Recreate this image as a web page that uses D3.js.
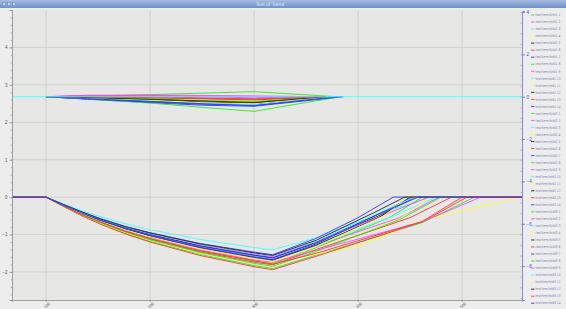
<!DOCTYPE html>
<html>
<head>
<meta charset="utf-8">
<script src="https://cdn.jsdelivr.net/npm/d3@7"></script>
<style>
  body { margin: 0; background: #ededed; overflow: hidden; }
  svg { display: block; font-family: "DejaVu Sans", sans-serif; }
</style>
</head>
<body>
<svg id="chart"></svg>
<script>
// Chart data
const title = 'Test of Trend';
const xTicks = [100, 200, 300, 400, 500];
const leftTicks = [-2, -1, 0, 1, 2, 3, 4];
const rightTicks = [-8, -6, -4, -2, 0, 2, 4];
const palette = ['#22ee22', '#ff44ff', '#44ffff', '#ffff33', '#222222', '#ff3333', '#3333ff'];

const seriesNames = [
    'testitem/fofd1-1', 'testitem/fofd1-2', 'testitem/fofd1-3', 'testitem/fofd1-4', 'testitem/fofd1-5',
    'testitem/fofd1-6', 'testitem/fofd1-7', 'testitem/fofd1-8', 'testitem/fofd1-9', 'testitem/fofd1-10',
    'testitem/fofd1-11', 'testitem/fofd1-12', 'testitem/fofd1-13', 'testitem/fofd1-14',
    'testitem/fofd2-1', 'testitem/fofd2-2', 'testitem/fofd2-3', 'testitem/fofd2-4', 'testitem/fofd2-5',
    'testitem/fofd2-6', 'testitem/fofd2-7', 'testitem/fofd2-8', 'testitem/fofd2-9', 'testitem/fofd2-10',
    'testitem/fofd2-11', 'testitem/fofd2-12', 'testitem/fofd2-13', 'testitem/fofd2-14',
    'testitem/fofd3-1', 'testitem/fofd3-2', 'testitem/fofd3-3', 'testitem/fofd3-4', 'testitem/fofd3-5',
    'testitem/fofd3-6', 'testitem/fofd3-7', 'testitem/fofd3-8', 'testitem/fofd3-9', 'testitem/fofd3-10',
    'testitem/fofd3-11', 'testitem/fofd3-12', 'testitem/fofd3-13', 'testitem/fofd3-14'
];

// upper group (right axis): values at upX, then back to 0 at upEnd
const upX = [100, 140, 200, 250, 300];
const upValues = [
    [0, 0.04, 0.10, 0.17, 0.24],
    [0, 0.06, 0.08, 0.06, 0.04],
    null, // flat reference line
    [0, -0.05, -0.12, -0.20, -0.25],
    [0, -0.08, -0.20, -0.30, -0.35],
    [0, 0.02, 0.00, -0.05, -0.10],
    [0, -0.12, -0.28, -0.40, -0.45],
    [0, -0.10, -0.30, -0.50, -0.69],
    [0, 0.05, 0.06, 0.03, 0.00],
    [0, -0.06, -0.15, -0.22, -0.30],
    [0, -0.03, -0.08, -0.15, -0.18],
    [0, -0.05, -0.14, -0.25, -0.30],
    [0, -0.02, -0.05, -0.10, -0.15],
    [0, -0.10, -0.25, -0.35, -0.40],
    [0, -0.04, -0.10, -0.18, -0.22],
    [0, 0.07, 0.05, 0.00, -0.05],
    [0, -0.08, -0.18, -0.30, -0.38],
    [0, -0.06, -0.16, -0.28, -0.33],
    [0, -0.04, -0.12, -0.20, -0.27],
    [0, 0.00, -0.04, -0.08, -0.12],
    [0, -0.09, -0.22, -0.33, -0.42]
];
const upEnd = [380, 365, null, 370, 372, 368, 386, 383, 362, 375, 366, 370, 372, 384, 374, 364, 378, 371, 369, 367, 380];

// lower group (left axis): descent at dropX, then rise points
const dropX = [100, 116, 133, 152, 176, 200, 248, 300, 318];
const lowerDrop = [
    [0, -0.24, -0.47, -0.71, -0.97, -1.18, -1.53, -1.83, -1.91],
    [0, -0.21, -0.42, -0.63, -0.86, -1.05, -1.37, -1.63, -1.70],
    [0, -0.17, -0.35, -0.52, -0.71, -0.87, -1.13, -1.35, -1.41],
    [0, -0.22, -0.43, -0.65, -0.89, -1.08, -1.40, -1.67, -1.75],
    [0, -0.20, -0.40, -0.60, -0.82, -1.00, -1.30, -1.55, -1.62],
    [0, -0.24, -0.48, -0.72, -0.98, -1.20, -1.56, -1.86, -1.94],
    [0, -0.19, -0.38, -0.57, -0.78, -0.95, -1.24, -1.47, -1.54],
    [0, -0.22, -0.44, -0.66, -0.90, -1.10, -1.43, -1.71, -1.78],
    [0, -0.20, -0.39, -0.59, -0.80, -0.98, -1.27, -1.52, -1.59],
    [0, -0.20, -0.41, -0.61, -0.84, -1.02, -1.33, -1.58, -1.65],
    [0, -0.23, -0.46, -0.69, -0.94, -1.15, -1.50, -1.78, -1.86],
    [0, -0.21, -0.42, -0.62, -0.85, -1.04, -1.35, -1.61, -1.68],
    [0, -0.22, -0.45, -0.67, -0.92, -1.12, -1.46, -1.74, -1.81],
    [0, -0.20, -0.41, -0.61, -0.83, -1.01, -1.31, -1.56, -1.63],
    [0, -0.23, -0.46, -0.68, -0.93, -1.14, -1.48, -1.77, -1.85],
    [0, -0.21, -0.44, -0.64, -0.88, -1.07, -1.41, -1.68, -1.74],
    [0, -0.19, -0.39, -0.58, -0.80, -0.97, -1.26, -1.50, -1.57],
    [0, -0.21, -0.42, -0.64, -0.87, -1.06, -1.38, -1.64, -1.72],
    [0, -0.19, -0.38, -0.58, -0.79, -0.96, -1.25, -1.49, -1.56],
    [0, -0.23, -0.45, -0.66, -0.91, -1.11, -1.44, -1.70, -1.79],
    [0, -0.21, -0.41, -0.62, -0.84, -1.03, -1.34, -1.60, -1.67]
];
const lowerRise = [
    [[360, -1.55], [462, -0.68], [512, 0]],
    [[360, -1.30], [440, -0.55], [478, 0]],
    [[360, -1.08], [420, -0.45], [470, 0]],
    [[399, -1.32], [463, -0.61], [556, 0]],
    [[360, -1.22], [420, -0.50], [455, 0]],
    [[360, -1.58], [462, -0.66], [505, 0]],
    [[360, -1.10], [400, -0.55], [434, 0]],
    [[360, -1.35], [430, -0.55], [462, 0]],
    [[360, -1.20], [430, -0.42], [468, 0]],
    [[360, -1.25], [435, -0.50], [475, 0]],
    [[360, -1.45], [440, -0.58], [470, 0]],
    [[360, -1.28], [420, -0.55], [450, 0]],
    [[360, -1.40], [450, -0.55], [490, 0]],
    [[360, -1.20], [420, -0.45], [452, 0]],
    [[360, -1.45], [440, -0.60], [480, 0]],
    [[360, -1.42], [462, -0.66], [518, 0]],
    [[360, -1.18], [420, -0.42], [455, 0]],
    [[360, -1.32], [425, -0.50], [448, 0]],
    [[360, -1.15], [415, -0.42], [445, 0]],
    [[360, -1.50], [462, -0.65], [500, 0]],
    [[360, -1.25], [420, -0.45], [458, 0]]
];

function drawChart() {
    const width = 566, height = 309;
    const plot = { left: 12, right: 522, top: 10, bottom: 300 };
    const xMin = 67.3, xMax = 557.7;

    const svg = d3.select('#chart').attr('width', width).attr('height', height);

    const x = d3.scaleLinear().domain([xMin, xMax]).range([plot.left, plot.right]);
    const yL = d3.scaleLinear().domain([-2.75, 5]).range([plot.bottom, plot.top]);
    const yR = d3.scaleLinear().domain([-9.6, 4.05]).range([plot.bottom, 11]);

    // window title bar
    const grad = svg.append('defs').append('linearGradient')
        .attr('id', 'bar').attr('x1', 0).attr('y1', 0).attr('x2', 0).attr('y2', 1);
    grad.append('stop').attr('offset', 0).attr('stop-color', '#a6bce2');
    grad.append('stop').attr('offset', 1).attr('stop-color', '#6f90c9');
    svg.append('rect').attr('width', width).attr('height', 8).attr('fill', 'url(#bar)');
    [4, 9, 14].forEach(bx => svg.append('rect')
        .attr('x', bx - 1.5).attr('y', 2.5).attr('width', 3).attr('height', 3)
        .attr('fill', '#c7d4ec').attr('stroke', '#5a78b0').attr('stroke-width', 0.4));
    svg.append('text').attr('x', 270).attr('y', 6).attr('text-anchor', 'middle')
        .attr('font-size', 4.5).attr('fill', '#e6ecf8').text(title);

    // plot background
    svg.append('rect')
        .attr('x', plot.left).attr('y', plot.top)
        .attr('width', plot.right - plot.left).attr('height', plot.bottom - plot.top)
        .attr('fill', '#e7e7e5');

    // grid
    svg.append('g').selectAll('line').data(xTicks).join('line')
        .attr('x1', d => x(d)).attr('x2', d => x(d))
        .attr('y1', plot.top).attr('y2', plot.bottom)
        .attr('stroke', '#cdcdcb').attr('stroke-width', 0.8);
    svg.append('g').selectAll('line').data(leftTicks).join('line')
        .attr('x1', plot.left).attr('x2', plot.right)
        .attr('y1', d => yL(d)).attr('y2', d => yL(d))
        .attr('stroke', '#cdcdcb').attr('stroke-width', 0.8);

    const lineL = d3.line().x(d => x(d[0])).y(d => yL(d[1]));
    const lineR = d3.line().x(d => x(d[0])).y(d => yR(d[1]));
    const series = svg.append('g').attr('fill', 'none').attr('stroke-width', 0.9);

    // upper group
    upValues.forEach((vals, i) => {
        if (!vals) return;
        const pts = upX.map((xx, j) => [xx, vals[j]]).concat([[upEnd[i], 0]]);
        series.append('path').datum(pts).attr('stroke', palette[i % 7]).attr('d', lineR);
    });

    // lower group
    lowerDrop.forEach((vals, i) => {
        const pts = [[xMin, 0]].concat(dropX.map((xx, j) => [xx, vals[j]]), lowerRise[i], [[xMax, 0]]);
        series.append('path').datum(pts).attr('stroke', palette[(i + 21) % 7]).attr('d', lineL);
    });

    // flat reference series on top
    series.append('path').datum([[xMin, 0], [xMax, 0]])
        .attr('stroke', palette[2]).attr('d', lineR);

    // left axis
    const leftAxis = svg.append('g').attr('transform', `translate(${plot.left},0)`)
        .call(d3.axisLeft(yL).tickValues(leftTicks).tickSize(2.5).tickPadding(2));
    svg.append('g').attr('transform', `translate(${plot.left},0)`)
        .call(d3.axisLeft(yL).ticks(40).tickSize(1.2).tickFormat(''))
        .select('.domain').remove();
    leftAxis.selectAll('text').attr('font-size', 4.5).attr('fill', '#555');

    // bottom axis
    const bottomAxis = svg.append('g').attr('transform', `translate(0,${plot.bottom})`)
        .call(d3.axisBottom(x).tickValues(xTicks).tickSize(2).tickPadding(1));
    bottomAxis.selectAll('text')
        .attr('font-size', 4).attr('fill', '#555')
        .attr('text-anchor', 'end').attr('dy', '0.6em')
        .attr('transform', 'rotate(-45)');

    svg.selectAll('.domain').attr('stroke', '#8a8a8a').attr('stroke-width', 0.8);
    svg.selectAll('.tick line').attr('stroke', '#8a8a8a').attr('stroke-width', 0.6);

    // right axis
    const rightAxis = svg.append('g').attr('transform', `translate(${plot.right},0)`)
        .call(d3.axisRight(yR).tickValues(rightTicks).tickSize(3).tickPadding(1.5));
    const rightMinor = svg.append('g').attr('transform', `translate(${plot.right},0)`)
        .call(d3.axisLeft(yR).ticks(28).tickSize(1.5).tickFormat(''));
    rightMinor.select('.domain').remove();
    rightAxis.select('.domain').attr('stroke', '#7d7df0').attr('stroke-width', 0.9);
    rightAxis.selectAll('.tick line').attr('stroke', '#7d7df0');
    rightMinor.selectAll('.tick line').attr('stroke', '#7d7df0').attr('stroke-width', 0.5);
    rightAxis.selectAll('text').attr('font-size', 4.5).attr('fill', '#4b4bdd');

    // legend
    const legend = svg.append('g');
    seriesNames.forEach((name, i) => {
        const ly = 15 + i * 7.03;
        legend.append('line')
            .attr('x1', 531).attr('x2', 534.5).attr('y1', ly).attr('y2', ly)
            .attr('stroke', palette[i % 7]).attr('stroke-width', 0.9);
        legend.append('text')
            .attr('x', 535.5).attr('y', ly).attr('dy', '0.35em')
            .attr('font-size', 3.6).attr('fill', '#7d7fb8')
            .attr('textLength', 25).attr('lengthAdjust', 'spacingAndGlyphs')
            .text(name);
    });
}

document.addEventListener('DOMContentLoaded', drawChart);
</script>
</body>
</html>
